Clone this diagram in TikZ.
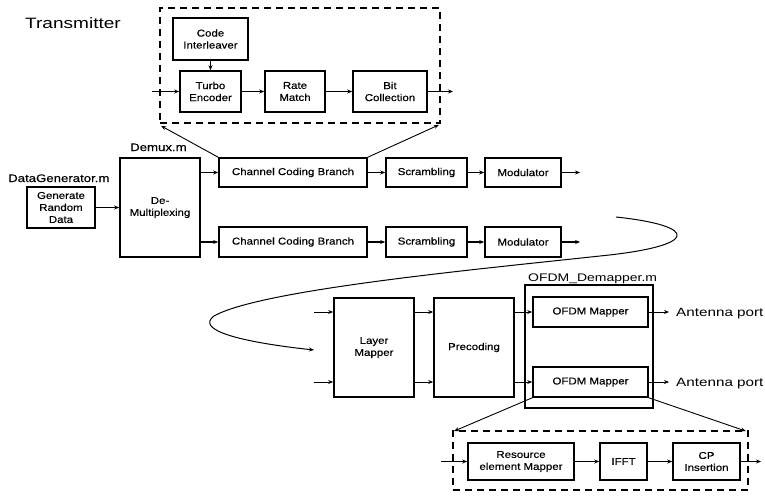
\documentclass[tikz,border=0pt]{standalone}
\usepackage{fontspec}
\setmainfont{Liberation Sans}
\newfontfamily\boxf[FakeStretch=1.15,FakeBold=0.4]{Liberation Sans}
\newfontfamily\labf[FakeStretch=1.2,FakeBold=0.4]{Liberation Sans}
\newfontfamily\bigf[FakeStretch=1.27]{Liberation Sans}
\usetikzlibrary{arrows.meta}
\begin{document}
\begin{tikzpicture}[x=1pt,y=-1pt,
  blk/.style={draw, line width=1.6pt, inner sep=0pt, align=center,
    font=\boxf\fontsize{10}{12}\selectfont},
  dbox/.style={draw, line width=1.8pt, dash pattern=on 7pt off 5pt, inner sep=0pt},
  cont/.style={draw, line width=1.4pt, inner sep=0pt},
  conn/.style={line width=0.9pt, -{Stealth[length=5pt,width=4pt]}},
  lab/.style={inner sep=0pt, font=\labf\fontsize{11}{13}\selectfont},
  big/.style={inner sep=0pt, font=\bigf\fontsize{12}{14}\selectfont}]
\useasboundingbox (0,0) rectangle (765,495);
% title
\node[inner sep=0pt, anchor=base west, font=\bigf\fontsize{15}{17}\selectfont] (title) at (25,29) {Transmitter};
% top dashed detail
\node[dbox, minimum width=280pt, minimum height=115pt] (tcc) at (300,65.5) {};
\node[blk, minimum width=75pt, minimum height=42pt] (ci) at (210.5,39) {Code\\Interleaver};
\node[blk, minimum width=61pt, minimum height=41pt] (te) at (210.5,91.5) {Turbo\\Encoder};
\node[blk, minimum width=60pt, minimum height=41pt] (rm) at (295,91.5) {Rate\\Match};
\node[blk, minimum width=74pt, minimum height=41pt] (bc) at (390,91.5) {Bit\\Collection};
\coordinate (tin) at (152,91.5);
\coordinate (tout) at (453,91.5);
\draw[conn] (ci) -- (te);
\draw[conn] (tin) -- (te);
\draw[conn] (te) -- (rm);
\draw[conn] (rm) -- (bc);
\draw[conn] (bc) -- (tout);
% labels
\node[lab, anchor=base west] (dgl) at (8,182) {DataGenerator.m};
\node[lab, anchor=base west] (dml) at (130,151) {Demux.m};
% left part
\node[blk, minimum width=68pt, minimum height=41pt] (grd) at (61,207.5) {Generate\\Random\\Data};
\node[blk, minimum width=80pt, minimum height=99pt] (dmx) at (160,207.5) {De-\\Multiplexing};
\node[blk, minimum width=148pt, minimum height=29pt] (ccb1) at (293,172.5) {Channel Coding Branch};
\node[blk, minimum width=148pt, minimum height=30pt] (ccb2) at (293,242) {Channel Coding Branch};
\node[blk, minimum width=81pt, minimum height=29pt] (scr1) at (426.5,172.5) {Scrambling};
\node[blk, minimum width=81pt, minimum height=30pt] (scr2) at (426.5,242) {Scrambling};
\node[blk, minimum width=76pt, minimum height=29pt] (mod1) at (523,172.5) {Modulator};
\node[blk, minimum width=76pt, minimum height=30pt] (mod2) at (523,242) {Modulator};
\coordinate (mo1) at (580,172.5);
\coordinate (mo2) at (580,242);
\draw[conn] (grd) -- (dmx);
\draw[conn] (dmx.east |- ccb1.west) -- (ccb1.west);
\draw[conn, line width=1.3pt] (dmx.east |- ccb2.west) -- (ccb2.west);
\draw[conn] (ccb1) -- (scr1);
\draw[conn] (scr1) -- (mod1);
\draw[conn] (mod1) -- (mo1);
\draw[conn, line width=1.3pt] (ccb2) -- (scr2);
\draw[conn, line width=1.3pt] (scr2) -- (mod2);
\draw[conn, line width=1.3pt] (mod2) -- (mo2);
% zoom lines top
\draw[conn] (ccb1.north west) -- ([shift={(2pt,-2pt)}]tcc.south west);
\draw[conn] (ccb1.north east) -- ([shift={(-2pt,-1pt)}]tcc.south east);
% curve
\coordinate (cs) at (616,217);
\coordinate (ce) at (314,350);
\draw[line width=1pt, -{Stealth[length=5pt,width=4pt]}] (cs) .. controls (700,226) and (700,246) .. (600,256)
  .. controls (470,270) and (260,290) .. (214,316)
  .. controls (195,330) and (240,342) .. (ce);
% lower part
\node[blk, minimum width=80pt, minimum height=99pt] (lm) at (374,347.5) {Layer\\Mapper};
\node[blk, minimum width=80pt, minimum height=99pt] (pc) at (474,347.5) {Precoding};
\node[cont, minimum width=128pt, minimum height=123pt] (odm) at (589,346.5) {};
\node[lab, anchor=base west, font=\bigf\fontsize{11}{13}\selectfont] (odl) at (528,281) {OFDM\_Demapper.m};
\node[blk, minimum width=115pt, minimum height=30pt] (om1) at (590.5,312) {OFDM Mapper};
\node[blk, minimum width=115pt, minimum height=30pt] (om2) at (590.5,382) {OFDM Mapper};
\coordinate (li1) at (314,312);
\coordinate (li2) at (314,382);
\draw[conn] (li1) -- (lm.west |- li1);
\draw[conn] (li2) -- (lm.west |- li2);
\draw[conn] (lm.east |- li1) -- (pc.west |- li1);
\draw[conn] (lm.east |- li2) -- (pc.west |- li2);
\draw[conn] (pc.east |- om1.west) -- (om1.west);
\draw[conn] (pc.east |- om2.west) -- (om2.west);
\node[big, anchor=base west] (ap1) at (676,316) {Antenna port};
\node[big, anchor=base west] (ap2) at (676,386) {Antenna port};
\draw[conn] (om1.east) -- ([xshift=-7pt]om1.east -| ap1.west);
\draw[conn] (om2.east) -- ([xshift=-7pt]om2.east -| ap2.west);
% bottom dashed detail
\node[dbox, minimum width=295pt, minimum height=59pt] (bdd) at (600.5,460.5) {};
\node[blk, minimum width=106pt, minimum height=37pt] (rem) at (521,461.5) {Resource\\element Mapper};
\node[blk, minimum width=47pt, minimum height=37pt] (ifft) at (623.5,461.5) {IFFT};
\node[blk, minimum width=67pt, minimum height=37pt] (cpi) at (706.5,461.5) {CP\\Insertion};
\coordinate (bin) at (441,461.5);
\coordinate (bout) at (761,461.5);
\draw[conn] (bin) -- (rem);
\draw[conn] (rem) -- (ifft);
\draw[conn] (ifft) -- (cpi);
\draw[conn] (cpi) -- (bout);
\draw[conn] (om2.south west) -- ([shift={(2pt,-1pt)}]bdd.north west);
\draw[conn] (om2.south east) -- ([shift={(-3pt,-1pt)}]bdd.north east);
\end{tikzpicture}
\end{document}
